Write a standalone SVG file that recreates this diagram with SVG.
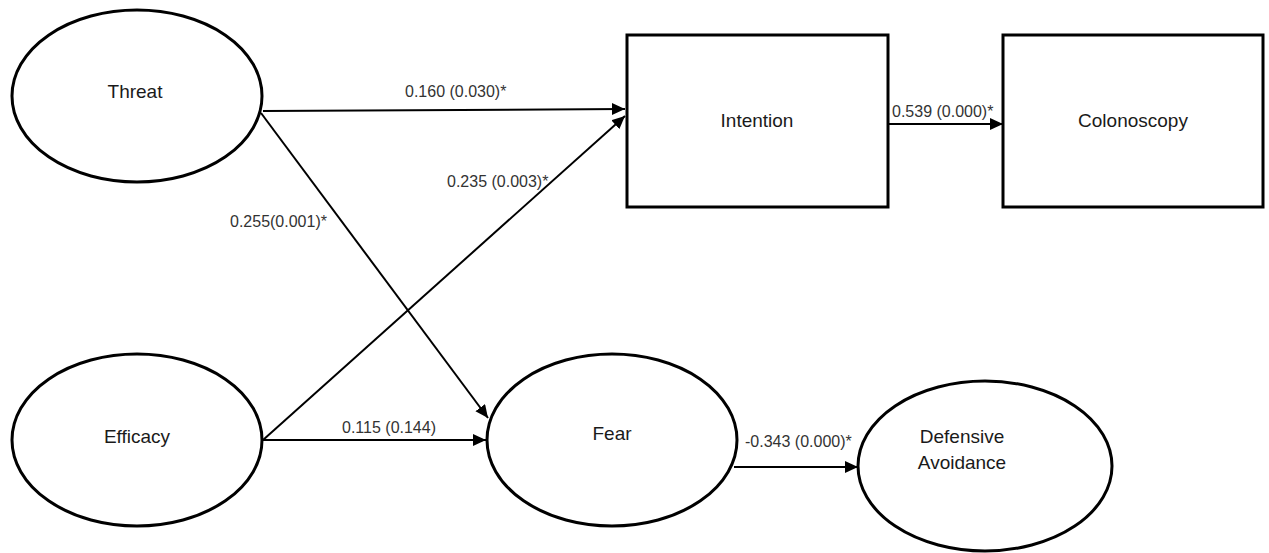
<svg xmlns="http://www.w3.org/2000/svg" width="1269" height="553" viewBox="0 0 1269 553">
  <style>
    .node { fill: #ffffff; stroke: #000000; stroke-width: 3; }
    .name { font-family: "Liberation Sans", Arial, sans-serif; font-size: 19px; fill: #1a1a1a; text-anchor: middle; }
    .edge { stroke: #000000; stroke-width: 2; fill: none; marker-end: url(#arrow); }
    .coef { font-family: "Liberation Sans", Arial, sans-serif; font-size: 16px; fill: #333333; }
  </style>
  <defs>
    <marker id="arrow" markerUnits="userSpaceOnUse" markerWidth="14" markerHeight="13" refX="13" refY="6" orient="auto">
      <path d="M0,0 L13,6 L0,12 z" fill="#000000"/>
    </marker>
  </defs>
  <rect width="1269" height="553" fill="#ffffff"/>

  <!-- paths between constructs -->
  <g id="connectors">
    <line class="edge" x1="263" y1="111" x2="625" y2="109"/>
    <line class="edge" x1="889" y1="124" x2="1003" y2="124"/>
    <line class="edge" x1="263" y1="440" x2="625" y2="116"/>
    <line class="edge" x1="261" y1="113" x2="488" y2="418"/>
    <line class="edge" x1="263" y1="440" x2="486" y2="440"/>
    <line class="edge" x1="734" y1="467" x2="858" y2="467"/>
    <text class="coef" x="405" y="97">0.160 (0.030)*</text>
    <text class="coef" x="892" y="117">0.539 (0.000)*</text>
    <text class="coef" x="447" y="187">0.235 (0.003)*</text>
    <text class="coef" x="230" y="227">0.255(0.001)*</text>
    <text class="coef" x="342" y="433">0.115 (0.144)</text>
    <text class="coef" x="745" y="447">-0.343 (0.000)*</text>
  </g>

  <g id="threat">
    <ellipse class="node" cx="137" cy="96" rx="125" ry="86"/>
    <text class="name" x="135" y="98">Threat</text>
  </g>
  <g id="efficacy">
    <ellipse class="node" cx="137" cy="440" rx="125" ry="86"/>
    <text class="name" x="137" y="443">Efficacy</text>
  </g>
  <g id="intention">
    <rect class="node" x="627" y="35" width="261" height="172"/>
    <text class="name" x="757" y="127">Intention</text>
  </g>
  <g id="colonoscopy">
    <rect class="node" x="1003" y="35" width="260" height="172"/>
    <text class="name" x="1133" y="127">Colonoscopy</text>
  </g>
  <g id="fear">
    <ellipse class="node" cx="612" cy="440" rx="125" ry="86"/>
    <text class="name" x="612" y="440">Fear</text>
  </g>
  <g id="defensive-avoidance">
    <ellipse class="node" cx="985" cy="466" rx="127" ry="85"/>
    <text class="name" x="962" y="443">Defensive</text>
    <text class="name" x="962" y="469">Avoidance</text>
  </g>
</svg>
